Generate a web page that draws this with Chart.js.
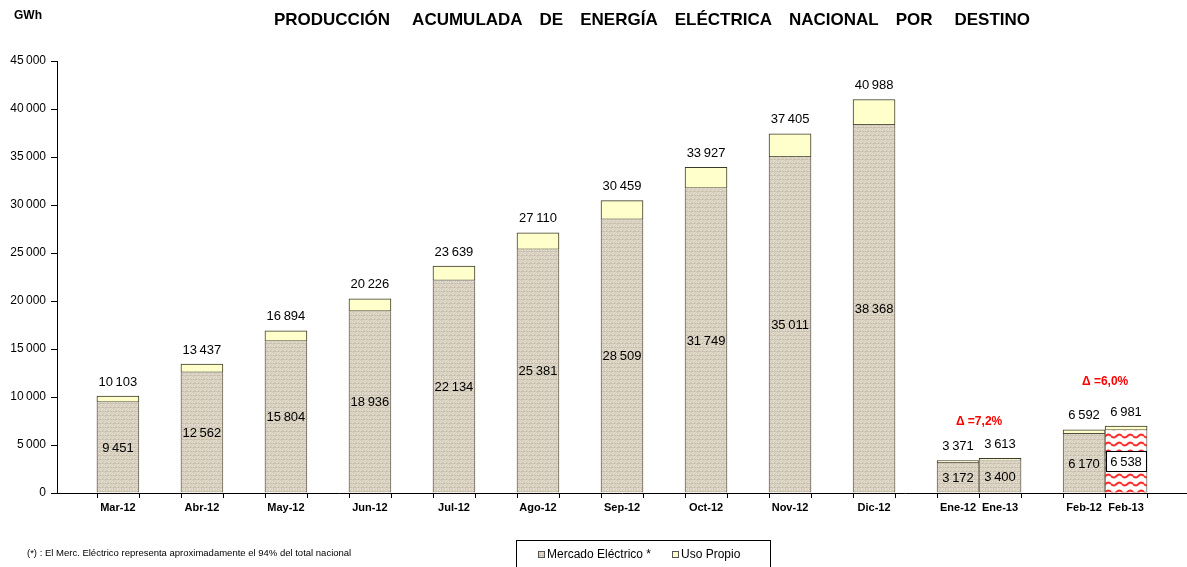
<!DOCTYPE html>
<html>
<head>
<meta charset="utf-8">
<script src="https://cdn.jsdelivr.net/npm/chart.js@4/dist/chart.umd.min.js"></script>
<style>
  html, body { margin: 0; padding: 0; background: #fff; }
  #wrap { width: 1187px; height: 567px; position: relative; }
</style>
</head>
<body>
<div id="wrap"><canvas id="mainChart" width="1187" height="567"></canvas></div>
<script>
// categorias y posiciones (en ranuras de media categoria)
const labels = ["Mar-12", "Abr-12", "May-12", "Jun-12", "Jul-12", "Ago-12", "Sep-12",
  "Oct-12", "Nov-12", "Dic-12", "Ene-12", "Ene-13", "Feb-12", "Feb-13"];
const xPos = [0, 2, 4, 6, 8, 10, 12, 14, 16, 18, 20, 21, 23, 24];

// GWh
const mercado = [9451, 12562, 15804, 18936, 22134, 25381, 28509, 31749, 35011, 38368,
  3172, 3400, 6170, 6538];
const usoPropio = [652, 875, 1090, 1290, 1505, 1729, 1950, 2178, 2394, 2620,
  199, 213, 422, 443];

const yTicks = [0, 5000, 10000, 15000, 20000, 25000, 30000, 35000, 40000, 45000];

const titleWords = ["PRODUCCI\u00d3N", "ACUMULADA", "DE", "ENERG\u00cdA", "EL\u00c9CTRICA", "NACIONAL", "POR", "DESTINO"];

const deltas = [
  { text: "\u0394 =7,2%", a: 10, b: 11, lift: 37 },
  { text: "\u0394 =6,0%", a: 12, b: 13, lift: 44 },
];

const fmt = (v) => String(v).replace(/\B(?=(\d{3})+(?!\d))/g, "\u2009");

const ctx = document.getElementById("mainChart").getContext("2d");

function linenPattern() {
  // tejido tipo lino, fijo (sin aleatorios)
  const rows = [
    "abacbaca",
    "cbabacab",
    "aacbaabc",
    "bdbbdbbd",
    "acabacaa",
    "babcabab",
    "caabacba",
    "bbdbbbdb",
  ];
  const cols = { a: "#ddd5c6", b: "#cfc6b5", c: "#e8e2d6", d: "#c2b8a6" };
  const c = document.createElement("canvas");
  c.width = 8; c.height = 8;
  const g = c.getContext("2d");
  rows.forEach((r, y) => {
    for (let x = 0; x < 8; x++) {
      g.fillStyle = cols[r[x]];
      g.fillRect(x, y, 1, 1);
    }
  });
  return ctx.createPattern(c, "repeat");
}

function wavePattern() {
  const c = document.createElement("canvas");
  c.width = 11; c.height = 8;
  const g = c.getContext("2d");
  g.fillStyle = "#ffffff";
  g.fillRect(0, 0, 11, 8);
  g.strokeStyle = "#ff2a2a";
  g.lineWidth = 2;
  g.beginPath();
  for (let i = 0; i <= 11; i++) {
    const yy = 4 + 1.5 * Math.sin((i / 11) * Math.PI * 2);
    if (i === 0) g.moveTo(i, yy); else g.lineTo(i, yy);
  }
  g.stroke();
  return ctx.createPattern(c, "repeat");
}

const linen = linenPattern();
const waves = wavePattern();
const boxed = labels.map((l) => l === "Feb-13");

const annot = {
  id: "annot",
  afterDatasetsDraw(chart) {
    const c = chart.ctx;
    const xs = chart.scales.x;
    const ys = chart.scales.y;
    const m0 = chart.getDatasetMeta(0);
    const m1 = chart.getDatasetMeta(1);
    c.save();
    c.textAlign = "center";
    c.textBaseline = "middle";
    c.font = "13px Arial, 'Liberation Sans', sans-serif";

    // valores dentro de las barras
    m0.data.forEach((bar, i) => {
      const cy = (bar.y + bar.base) / 2;
      const txt = fmt(mercado[i]);
      if (boxed[i]) {
        const w = c.measureText(txt).width + 8;
        c.fillStyle = "#fff";
        c.fillRect(bar.x - w / 2, cy - 10, w, 20);
        c.strokeStyle = "#000";
        c.lineWidth = 1;
        c.strokeRect(Math.round(bar.x - w / 2) + 0.5, Math.round(cy - 10) + 0.5, Math.round(w), 20);
      }
      c.fillStyle = "#000";
      c.fillText(txt, bar.x, cy + 1);
    });

    // totales
    m1.data.forEach((bar, i) => {
      c.fillStyle = "#000";
      c.fillText(fmt(mercado[i] + usoPropio[i]), bar.x, bar.y - 14);
    });

    // variaciones
    c.font = "bold 12px Arial, 'Liberation Sans', sans-serif";
    c.fillStyle = "#ff0000";
    deltas.forEach((d) => {
      const px = (xs.getPixelForValue(xPos[d.a]) + xs.getPixelForValue(xPos[d.b])) / 2;
      const top = Math.min(m1.data[d.a].y, m1.data[d.b].y);
      c.fillText(d.text, px, top - d.lift);
    });

    // marcas del eje x en los bordes de las barras
    const edges = new Set();
    xPos.forEach((v) => {
      edges.add(Math.round(xs.getPixelForValue(v - 0.5)));
      edges.add(Math.round(xs.getPixelForValue(v + 0.5)));
    });
    c.strokeStyle = "#000";
    c.lineWidth = 1;
    c.beginPath();
    edges.forEach((px) => {
      c.moveTo(px + 0.5, ys.bottom);
      c.lineTo(px + 0.5, ys.bottom + 5);
    });
    c.stroke();
    c.restore();
  },
  afterDraw(chart) {
    const c = chart.ctx;
    c.save();
    c.fillStyle = "#000";
    c.textBaseline = "middle";

    // titulo, palabras espaciadas
    c.textAlign = "left";
    c.font = "bold 17px Arial, 'Liberation Sans', sans-serif";
    const gaps = [22, 17, 17, 17, 17, 17, 22];
    let total = gaps.reduce((s, g) => s + g, 0);
    titleWords.forEach((w) => { total += c.measureText(w).width; });
    let tx = 652 - total / 2;
    titleWords.forEach((w, i) => {
      c.fillText(w, tx, 20);
      tx += c.measureText(w).width + (gaps[i] || 0);
    });

    c.font = "bold 12px Arial, 'Liberation Sans', sans-serif";
    c.fillText("GWh", 14, 16);

    // nota
    c.font = "9.5px 'Liberation Sans Narrow', 'Arial Narrow', Arial, sans-serif";
    c.fillText("(*) : El Merc. El\u00e9ctrico representa aproximadamente el 94% del total nacional", 27, 553);

    // leyenda
    c.strokeStyle = "#000";
    c.lineWidth = 1;
    c.strokeRect(516.5, 540.5, 254, 40);
    c.font = "12px Arial, 'Liberation Sans', sans-serif";
    const items = [
      { text: "Mercado El\u00e9ctrico *", fill: linen, x: 538 },
      { text: "Uso Propio", fill: "#ffffcc", x: 672 },
    ];
    items.forEach((it) => {
      c.fillStyle = it.fill;
      c.fillRect(it.x, 551, 7, 7);
      c.strokeStyle = "#555";
      c.strokeRect(it.x + 0.5, 551.5, 6, 6);
      c.fillStyle = "#000";
      c.fillText(it.text, it.x + 9, 555);
    });
    c.restore();
  },
};

const mainChart = new Chart(ctx, {
  type: "bar",
  data: {
    datasets: [
      {
        label: "Mercado El\u00e9ctrico *",
        data: xPos.map((x, i) => ({ x: x, y: mercado[i] })),
        backgroundColor: labels.map((l, i) => (boxed[i] ? waves : linen)),
        borderColor: "#6e6658",
        borderWidth: { left: 1, right: 1, top: 0, bottom: 0 },
        borderSkipped: false,
        barPercentage: 1,
        categoryPercentage: 1,
        stack: "s",
      },
      {
        label: "Uso Propio",
        data: xPos.map((x, i) => ({ x: x, y: usoPropio[i] })),
        backgroundColor: "#ffffcc",
        borderColor: "#3a3a2a",
        borderWidth: 1,
        borderSkipped: false,
        barPercentage: 1,
        categoryPercentage: 1,
        stack: "s",
      },
    ],
  },
  options: {
    responsive: false,
    animation: false,
    layout: { padding: { top: 61, right: 0, left: 0, bottom: 0 } },
    plugins: {
      legend: { display: false },
      tooltip: { enabled: false },
      title: { display: false },
    },
    scales: {
      x: {
        type: "linear",
        stacked: true,
        offset: false,
        min: -1.45,
        max: 25.45,
        afterFit: (s) => { s.height = 74; },
        afterBuildTicks: (s) => { s.ticks = xPos.map((v) => ({ value: v })); },
        grid: { display: false, drawTicks: false, offset: false },
        border: { display: true, color: "#000", width: 1 },
        ticks: {
          autoSkip: false,
          maxRotation: 0,
          padding: 8,
          color: "#000",
          font: { family: "Arial, 'Liberation Sans', sans-serif", size: 11, weight: "bold" },
          callback: (v) => labels[xPos.indexOf(v)],
        },
      },
      y: {
        stacked: true,
        min: 0,
        max: 45000,
        afterFit: (s) => { s.width = 57; },
        afterBuildTicks: (s) => { s.ticks = yTicks.map((v) => ({ value: v })); },
        grid: { drawOnChartArea: false, drawTicks: true, tickLength: 6, color: "#000" },
        border: { display: true, color: "#000", width: 1 },
        ticks: {
          padding: 5,
          color: "#000",
          font: { family: "Arial, 'Liberation Sans', sans-serif", size: 12 },
          callback: (v) => fmt(v),
        },
      },
    },
  },
  plugins: [annot],
});
</script>
</body>
</html>
